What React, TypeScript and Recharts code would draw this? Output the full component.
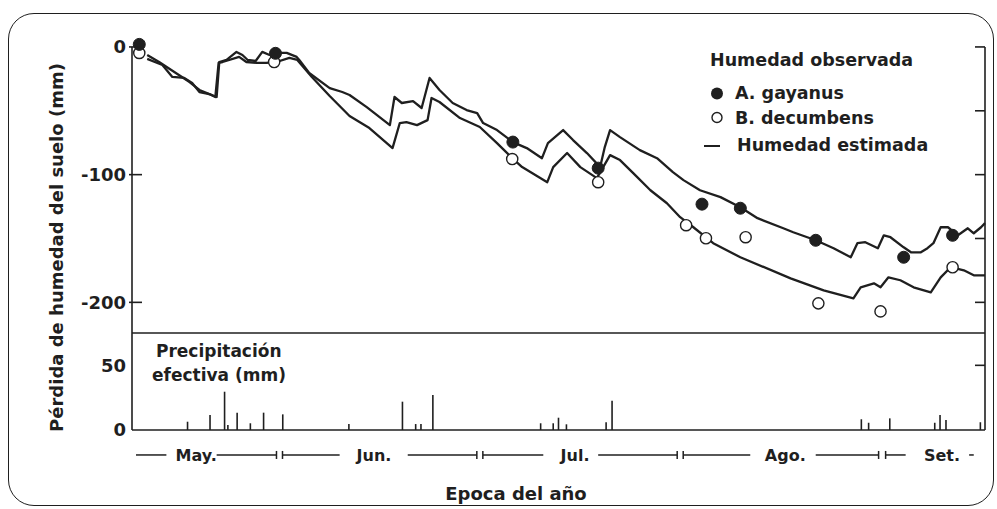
import React from 'react';
import { ComposedChart, Line, Scatter, XAxis, YAxis, ReferenceLine } from 'recharts';

const FONT = '"DejaVu Sans", Verdana, sans-serif';
const INK = '#1f1f1f';

// x values are days counted from 1 May (31 = 1 Jun, 61 = 1 Jul, 92 = 1 Aug, 123 = 1 Sep)
const X_DOMAIN: [number, number] = [9, 138];
const MOISTURE_DOMAIN: [number, number] = [-224, 7];
const RAIN_DOMAIN: [number, number] = [0, 75];

// Estimated soil moisture loss (mm): [day, mm]
const gayanusEstimated: [number, number][] = [
  [11.3, -6.3], [13.1, -11.8], [15.4, -19.6], [17.7, -27.5], [19.2, -33.7], [20.7, -36.9], [21.8, -39.2],
  [22.2, -11.8], [23.3, -10.2], [24.8, -3.9], [25.7, -6.3], [26.5, -10.2], [27.7, -11.0], [28.7, -3.9],
  [29.8, -6.3], [30.85, -4.7], [32.4, -4.7], [33.9, -7.8], [34.3, -10.2], [35.8, -20.4], [38.9, -32.2],
  [40.8, -35.3], [41.9, -37.6], [44.5, -47.1], [48.0, -61.2], [48.7, -39.2], [49.8, -43.9], [51.5, -42.4],
  [52.8, -47.8], [54.0, -24.3], [55.5, -33.7], [57.5, -43.9], [59.6, -49.4], [61.2, -51.8], [62.1, -59.6],
  [64.2, -65.1], [66.6, -74.5], [68.7, -79.2], [71.0, -87.1], [71.9, -75.3], [74.2, -65.1], [75.7, -72.9],
  [77.8, -83.1], [79.8, -94.1], [80.5, -78.4], [81.3, -65.1], [82.8, -70.6], [85.8, -80.8], [88.4, -87.1],
  [90.8, -98.0], [92.4, -104.3], [94.9, -112.2], [98.0, -117.6], [101.0, -125.5], [103.6, -134.1],
  [107.5, -142.0], [109.0, -145.1], [112.4, -151.4], [115.1, -157.6], [117.7, -164.7], [118.7, -153.7],
  [119.9, -152.9], [121.8, -157.6], [122.7, -147.5], [123.7, -149.0], [125.7, -156.9], [126.8, -160.8],
  [128.3, -160.8], [129.3, -157.6], [130.2, -153.7], [131.3, -141.2], [132.4, -141.2], [133.9, -147.5],
  [135.4, -142.0], [136.3, -145.9], [137.4, -141.2], [138.0, -138.0],
];

const decumbensEstimated: [number, number][] = [
  [11.3, -9.4], [13.6, -14.1], [15.1, -23.5], [16.9, -24.3], [18.1, -28.2], [19.2, -35.3], [20.7, -36.9],
  [21.6, -39.2], [22.1, -12.5], [22.7, -11.8], [25.2, -7.8], [26.3, -11.8], [27.8, -12.5], [29.3, -12.5],
  [30.85, -11.8], [32.8, -8.6], [34.0, -10.2], [36.2, -23.5], [38.9, -38.4], [41.9, -54.1], [44.9, -63.5],
  [48.4, -79.2], [49.5, -59.6], [50.5, -58.8], [52.1, -61.2], [53.7, -57.3], [54.3, -40.0], [55.5, -43.1],
  [58.6, -55.7], [61.6, -62.7], [64.2, -75.3], [66.5, -87.1], [68.0, -94.1], [71.8, -105.9], [72.7, -94.1],
  [74.8, -83.1], [76.8, -94.1], [79.3, -102.7], [81.3, -84.7], [82.8, -88.6], [84.8, -98.8], [87.4, -112.2],
  [89.9, -122.4], [91.9, -133.3], [93.9, -141.2], [96.9, -153.7], [101.0, -164.7], [108.6, -181.2],
  [113.6, -190.6], [118.1, -196.9], [119.2, -188.2], [121.2, -185.1], [122.2, -188.2], [123.4, -180.4],
  [125.2, -182.7], [127.2, -188.2], [129.8, -192.2], [131.3, -180.4], [132.8, -172.5], [134.8, -174.9],
  [136.3, -178.8], [138.0, -178.8],
];

// Observed soil moisture loss (mm): [day, mm]
const gayanusObserved: [number, number][] = [
  [10.1, 2.0], [30.7, -5.0], [66.6, -74.5], [79.5, -94.9], [95.2, -123.1], [101.0, -126.3],
  [112.4, -151.4], [125.7, -164.7], [133.1, -147.5],
];
const decumbensObserved: [number, number][] = [
  [10.1, -4.7], [30.5, -11.8], [66.5, -87.8], [79.5, -105.9], [92.8, -139.6], [95.8, -149.8],
  [101.8, -149.0], [112.8, -200.8], [122.2, -207.1], [133.1, -172.5],
];

// Effective precipitation (mm): [day, mm]
const rainfall: [number, number][] = [
  [17.4, 6.4], [20.8, 11.6], [23.0, 29.6], [23.5, 3.9], [24.9, 13.4], [26.9, 5.2], [28.9, 13.4],
  [31.8, 12.1], [41.8, 4.6], [49.9, 21.9], [51.9, 4.6], [52.7, 4.6], [54.5, 27.1], [70.8, 5.2],
  [72.7, 5.2], [73.5, 9.5], [74.7, 4.4], [80.7, 6.0], [81.6, 22.7], [119.3, 8.3], [120.4, 5.6],
  [123.6, 9.0], [130.4, 5.6], [131.2, 11.6], [132.1, 7.7], [137.3, 6.0],
];

const moistureTicks = [0, -100, -200];
const moistureRightTicks = [0, -50, -100, -150, -200];
const rainTicks = [0, 50];
const rainRightTicks = [50];

const monthNames = ['May.', 'Jun.', 'Jul.', 'Ago.', 'Set.'];
const monthLabelDays = [18.7, 45.6, 76.0, 107.8, 131.5];
const monthBoundaryMarks = [30.85, 31.76, 61.15, 62.06, 91.45, 92.36, 121.91, 122.97];
const monthDashes: [number, number][] = [
  [9.6, 14.2], [21.8, 30.85], [31.76, 40.4], [50.7, 61.15], [62.06, 71.2], [79.5, 91.45],
  [92.36, 102.5], [112.4, 121.91], [122.97, 126.0], [135.6, 136.3],
];
const MONTH_ROW_Y = -19.3;
const MONTH_MARK_HALF = 3.1;

const toRows = (pairs: [number, number][]) => pairs.map(([day, v]) => ({ day, v }));
const rainRows = toRows(rainfall);

const TXT = { fontFamily: FONT, fontWeight: 700, fill: INK } as const;

function LeftTick(props: any) {
  const { x, y, payload, withMark } = props;
  return (
    <g>
      {withMark && <line x1={x - 3} x2={x + 10} y1={y} y2={y} stroke={INK} strokeWidth={1.6} />}
      <text x={x - 6} y={y} dy="0.36em" textAnchor="end" fontSize={18} {...TXT}>
        {payload.value}
      </text>
    </g>
  );
}

function RightTick(props: any) {
  const { x, y } = props;
  return <line x1={x - 10} x2={x} y1={y} y2={y} stroke={INK} strokeWidth={1.6} />;
}

const filledDot = (p: any) => <circle cx={p.cx} cy={p.cy} r={6} fill={INK} stroke={INK} strokeWidth={1} />;
const openDot = (p: any) => <circle cx={p.cx} cy={p.cy} r={5.6} fill="#fff" stroke={INK} strokeWidth={1.4} />;
const noMark = () => <g />;

const AXIS_STROKE = { stroke: INK, strokeWidth: 1.6 };

export default function App() {
  return (
    <div style={{ position: 'absolute', left: 0, top: 0, width: 997, height: 509, background: '#fff', overflow: 'hidden' }}>
      <div
        style={{
          position: 'absolute', left: 8, top: 13, width: 986, height: 493, boxSizing: 'border-box',
          border: `1.8px solid ${INK}`, borderRadius: 26,
        }}
      />

      {/* Soil moisture panel */}
      <div style={{ position: 'absolute', left: 0, top: 0 }}>
        <ComposedChart width={997} height={340} margin={{ top: 38, right: 0, bottom: 7, left: 0 }}>
          <XAxis type="number" dataKey="day" domain={X_DOMAIN} hide />
          <YAxis
            type="number" dataKey="v" domain={MOISTURE_DOMAIN} ticks={moistureTicks} interval={0}
            width={132} tickSize={0} tickMargin={0} axisLine={false} tickLine={false}
            tick={(p: any) => <LeftTick {...p} withMark />}
          />
          <YAxis
            yAxisId="r" orientation="right" type="number" dataKey="v" domain={MOISTURE_DOMAIN} ticks={moistureRightTicks}
            interval={0} width={12} tickSize={0} tickMargin={0} axisLine={false} tickLine={false}
            tick={(p: any) => <RightTick {...p} />}
          />
          <ReferenceLine ifOverflow="visible" segment={[{ x: X_DOMAIN[0], y: MOISTURE_DOMAIN[0] }, { x: X_DOMAIN[0], y: 0 }]} {...AXIS_STROKE} />
          <ReferenceLine ifOverflow="visible" segment={[{ x: X_DOMAIN[1], y: MOISTURE_DOMAIN[0] }, { x: X_DOMAIN[1], y: 0 }]} {...AXIS_STROKE} />
          <ReferenceLine ifOverflow="visible" y={MOISTURE_DOMAIN[0]} {...AXIS_STROKE} />
          <Line data={toRows(gayanusEstimated)} dataKey="v" type="linear" stroke={INK} strokeWidth={2.3}
            strokeLinejoin="round" dot={false} activeDot={false} isAnimationActive={false} />
          <Line yAxisId="r" data={toRows(decumbensEstimated)} dataKey="v" type="linear" stroke={INK} strokeWidth={2.3}
            strokeLinejoin="round" dot={false} activeDot={false} isAnimationActive={false} />
          <Scatter data={toRows(decumbensObserved)} dataKey="v" shape={openDot} isAnimationActive={false} />
          <Scatter data={toRows(gayanusObserved)} dataKey="v" shape={filledDot} isAnimationActive={false} />
        </ComposedChart>
      </div>

      {/* Precipitation panel */}
      <div style={{ position: 'absolute', left: 0, top: 326 }}>
        <ComposedChart width={997} height={183} data={rainRows} margin={{ top: 7, right: 0, bottom: 0, left: 0 }}>
          <XAxis
            type="number" dataKey="day" domain={X_DOMAIN} ticks={monthLabelDays} interval={0} height={79}
            tickFormatter={(_v: number, i: number) => monthNames[i]} tickSize={0} tickMargin={20}
            axisLine={AXIS_STROKE} tickLine={false}
            tick={{ fontSize: 16, fontFamily: FONT, fontWeight: 700, fill: INK }}
          />
          <YAxis
            type="number" dataKey="v" domain={RAIN_DOMAIN} ticks={rainTicks} interval={0}
            width={132} tickSize={0} tickMargin={0} axisLine={false} tickLine={false}
            tick={(p: any) => <LeftTick {...p} />}
          />
          <YAxis
            yAxisId="r" orientation="right" type="number" dataKey="v" domain={RAIN_DOMAIN} ticks={rainRightTicks}
            interval={0} width={12} tickSize={0} tickMargin={0} axisLine={false} tickLine={false}
            tick={(p: any) => <RightTick {...p} />}
          />
          <Scatter data={rainRows} dataKey="v" shape={noMark} isAnimationActive={false} />
          <Scatter yAxisId="r" data={rainRows} dataKey="v" shape={noMark} isAnimationActive={false} />
          <ReferenceLine ifOverflow="visible" segment={[{ x: X_DOMAIN[0], y: 0 }, { x: X_DOMAIN[0], y: RAIN_DOMAIN[1] }]} {...AXIS_STROKE} />
          <ReferenceLine ifOverflow="visible" segment={[{ x: X_DOMAIN[1], y: 0 }, { x: X_DOMAIN[1], y: RAIN_DOMAIN[1] }]} {...AXIS_STROKE} />
          {rainfall.map(([d, mm], i) => (
            <ReferenceLine key={`r${i}`} ifOverflow="visible" segment={[{ x: d, y: 0 }, { x: d, y: mm }]} stroke={INK} strokeWidth={1.6} />
          ))}
          {monthDashes.map(([a, b], i) => (
            <ReferenceLine key={`m${i}`} ifOverflow="visible"
              segment={[{ x: a, y: MONTH_ROW_Y }, { x: b, y: MONTH_ROW_Y }]} stroke={INK} strokeWidth={1.5} />
          ))}
          {monthBoundaryMarks.map((d, i) => (
            <ReferenceLine key={`b${i}`} ifOverflow="visible"
              segment={[{ x: d, y: MONTH_ROW_Y - MONTH_MARK_HALF }, { x: d, y: MONTH_ROW_Y + MONTH_MARK_HALF }]}
              stroke={INK} strokeWidth={1.5} />
          ))}
        </ComposedChart>
      </div>

      {/* Titles and legend */}
      <svg width={997} height={509} style={{ position: 'absolute', left: 0, top: 0, pointerEvents: 'none' }}>
        <text transform="translate(63,247.5) rotate(-90)" textAnchor="middle" fontSize={18} {...TXT}>
          Pérdida de humedad del suelo (mm)
        </text>
        <text x={516} y={500} textAnchor="middle" fontSize={18} {...TXT}>Epoca del año</text>
        <text x={156} y={357} fontSize={17} {...TXT}>Precipitación</text>
        <text x={152} y={381} fontSize={17} {...TXT}>efectiva (mm)</text>

        <text x={710} y={65.5} fontSize={17.5} {...TXT}>Humedad observada</text>
        <circle cx={717} cy={93.5} r={6} fill={INK} />
        <text x={735} y={99} fontSize={17.5} {...TXT}>A. gayanus</text>
        <circle cx={717} cy={117.5} r={5} fill="#fff" stroke={INK} strokeWidth={1.4} />
        <text x={735} y={124} fontSize={17.5} {...TXT}>B. decumbens</text>
        <line x1={704} x2={720} y1={146} y2={146} stroke={INK} strokeWidth={2} />
        <text x={737} y={150.5} fontSize={17.5} {...TXT}>Humedad estimada</text>
      </svg>
    </div>
  );
}
